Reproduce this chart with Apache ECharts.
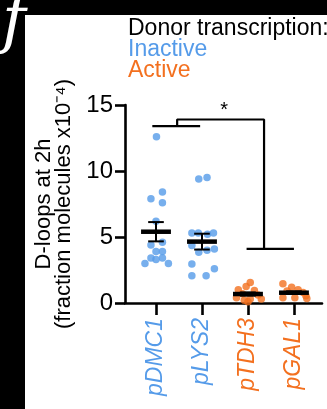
<!DOCTYPE html>
<html><head><meta charset="utf-8">
<script src="https://cdn.jsdelivr.net/npm/echarts@6/dist/echarts.min.js"></script>
<style>html,body{margin:0;padding:0;background:#000;}#c{width:327px;height:409px;}</style>
</head><body><div id="c"></div>
<script>
// ---- data ----
const categories = ['pDMC1', 'pLYS2', 'pTDH3', 'pGAL1'];
const categoryGroup = ['inactive', 'inactive', 'active', 'active'];
const yTicks = [0, 5, 10, 15];
const legendTitle = 'Donor transcription:';
const legendInactive = 'Inactive';
const legendActive = 'Active';
const yName1 = 'D-loops at 2h';
const yName2 = '(fraction molecules x10\u207B\u2074)';
// individual measurements: [category position incl. jitter, value]
const dmc1 = [[1.01,12.6],[1.14,8.4],[0.89,7.9],[1.14,7.6],[1.0,6.2],[1.14,4.6],[0.89,4.4],[1.0,3.9],[1.14,3.9],[0.89,3.4],[1.0,3.3],[1.14,3.4],[0.76,3.0],[1.27,3.0]];
const lys2 = [[1.93,9.4],[2.11,9.5],[1.78,5.3],[1.92,5.3],[2.12,5.2],[2.25,5.3],[1.78,4.35],[1.93,3.85],[2.11,4.0],[2.27,4.1],[1.78,2.95],[2.27,2.6],[1.78,2.07],[2.09,2.07]];
const tdh3 = [[3.05,1.55],[2.96,1.25],[2.79,1.0],[3.14,0.95],[2.88,0.7],[3.22,0.6],[2.75,0.4],[3.05,0.3],[3.29,0.3],[2.92,0.2],[3.0,0.1]];
const gal1 = [[3.76,1.45],[3.95,1.2],[4.09,1.0],[3.85,0.9],[4.2,0.8],[4.26,0.55],[3.76,0.4],[4.02,0.4],[4.28,0.35]];
const means = [5.4, 4.65, 0.68, 0.78];
const sems = [0.73, 0.6, 0.12, 0.1];
// significance bracket (data units)
const sigLeftBar = [[0.92,13.4],[1.96,13.4]];
const sigStem = [[1.46,13.4],[1.46,13.9],[3.35,13.9],[3.35,4.1]];
const sigRightBar = [[2.97,4.1],[4.0,4.1]];
const sigStar = [[2.48,14.6,'*']];

// ---- style ----
const BLUE = '#559BE9', ORANGE = '#F3701F';
const FONT = 'Liberation Sans, Arial, sans-serif';

const chart = echarts.init(document.getElementById('c'), null, {renderer:'canvas'});
const lineSeries = (d) => ({type:'line', data:d, symbol:'none', silent:true, z:5,
  lineStyle:{color:'#000', width:2.2}, animation:false});

chart.setOption({
  backgroundColor:'#000',
  animation:false,
  textStyle:{fontFamily:FONT},
  grid:{left:125, right:5, top:105, bottom:106, containLabel:false},
  graphic:[
    {type:'rect', z:-10, shape:{x:25, y:15, width:302, height:394}, style:{fill:'#fff'}},
    {type:'text', z:10, left:2, top:-8, style:{text:'f', fill:'#fff', font:'italic 64px DejaVu Serif'}},
    {type:'text', z:10, left:128, top:17, style:{
      text:'{k|'+legendTitle+'}\n{b|'+legendInactive+'}\n{o|'+legendActive+'}',
      rich:{k:{fill:'#000', fontSize:23, fontFamily:FONT, lineHeight:21},
            b:{fill:BLUE, fontSize:23, fontFamily:FONT, lineHeight:21},
            o:{fill:ORANGE, fontSize:23, fontFamily:FONT, lineHeight:21}}}}
  ],
  xAxis:{type:'value', min:0.326, max:4.61,
    splitLine:{show:false},
    axisLine:{show:true, onZero:false, lineStyle:{color:'#000', width:2.6}},
    axisTick:{show:true, customValues:[1,2,3,4], length:12, lineStyle:{color:'#000', width:2.6}},
    axisLabel:{customValues:[1,2,3,4], rotate:90, margin:15,
      formatter:(v)=>{const i=Math.round(v)-1; return '{'+(categoryGroup[i]==='inactive'?'b':'o')+'|'+categories[i]+'}';},
      rich:{b:{color:BLUE, fontSize:23, fontStyle:'italic', fontFamily:FONT},
            o:{color:ORANGE, fontSize:23, fontStyle:'italic', fontFamily:FONT}}}
  },
  yAxis:{type:'value', min:0, max:15, interval:5,
    splitLine:{show:false},
    axisLine:{show:true, lineStyle:{color:'#000', width:2.6}},
    axisTick:{show:true, length:10, lineStyle:{color:'#000', width:2.6}},
    axisLabel:{color:'#000', fontSize:24, margin:12, fontFamily:FONT,
      formatter:(v)=> yTicks.includes(v)? String(v) : ''},
    name: yName1 + '\n' + yName2, nameLocation:'middle', nameGap:50,
    nameTextStyle:{color:'#000', fontSize:22, lineHeight:20, fontFamily:FONT}
  },
  series:[
    {type:'scatter', data:dmc1, symbolSize:7.5, itemStyle:{color:BLUE}, z:3},
    {type:'scatter', data:lys2, symbolSize:7.5, itemStyle:{color:BLUE}, z:3},
    {type:'scatter', data:tdh3, symbolSize:7.5, itemStyle:{color:ORANGE}, z:3},
    {type:'scatter', data:gal1, symbolSize:7.5, itemStyle:{color:ORANGE}, z:3},
    {type:'custom', z:6, data:means.map((m,i)=>[i+1, m, sems[i]]),
      renderItem:(params, api)=>{
        const x=api.value(0), m=api.value(1), s=api.value(2);
        const c=api.coord([x,m]), top=api.coord([x,m+s]), bot=api.coord([x,m-s]);
        const hw=api.size([0.325,0])[0], cw=api.size([0.17,0])[0];
        const st={stroke:'#000', lineWidth:2};
        return {type:'group', children:[
          {type:'line', shape:{x1:c[0], y1:top[1], x2:c[0], y2:bot[1]}, style:st},
          {type:'line', shape:{x1:c[0]-cw, y1:top[1], x2:c[0]+cw, y2:top[1]}, style:st},
          {type:'line', shape:{x1:c[0]-cw, y1:bot[1], x2:c[0]+cw, y2:bot[1]}, style:st},
          {type:'line', shape:{x1:c[0]-hw, y1:c[1], x2:c[0]+hw, y2:c[1]}, style:{stroke:'#000', lineWidth:4.5}}
        ]};
      }},
    lineSeries(sigLeftBar),
    lineSeries(sigStem),
    lineSeries(sigRightBar),
    {type:'custom', z:6, data:sigStar,
      renderItem:(params, api)=>{
        const p=api.coord([api.value(0), api.value(1)]);
        return {type:'text', x:p[0], y:p[1], style:{text:sigStar[params.dataIndex][2], fill:'#000',
          font:'20px '+FONT, align:'center', verticalAlign:'middle'}};
      }}
  ]
});
</script></body></html>
